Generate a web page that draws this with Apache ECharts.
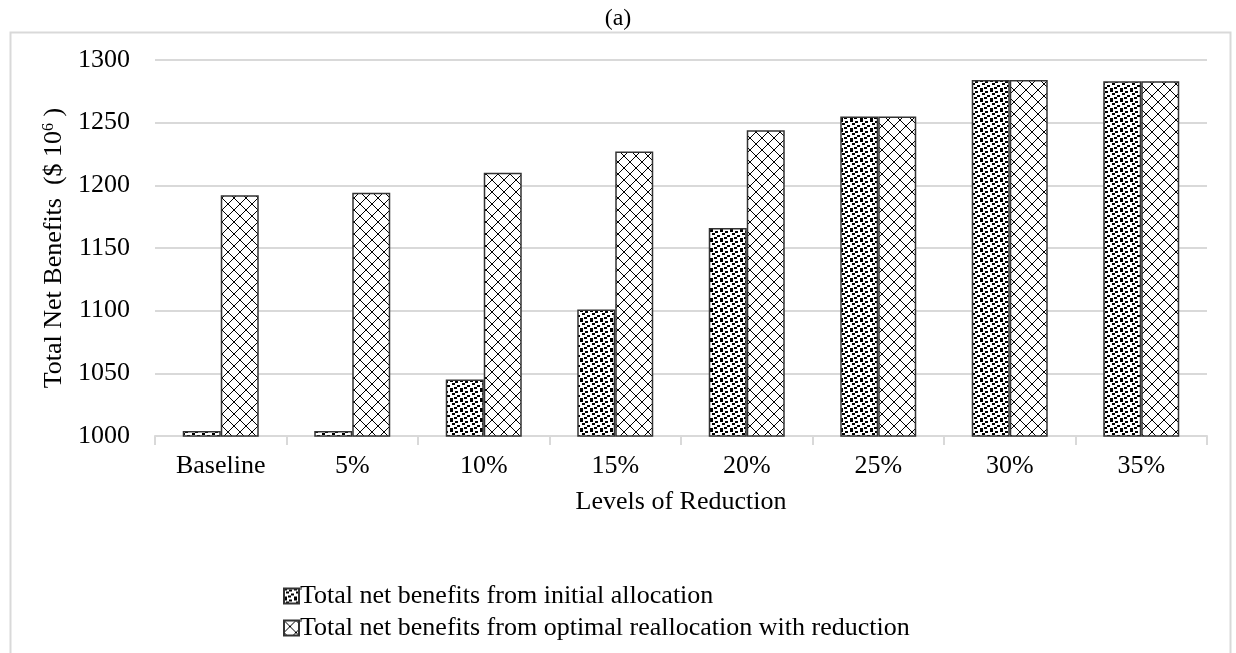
<!DOCTYPE html>
<html>
<head>
<meta charset="utf-8">
<script src="https://cdn.jsdelivr.net/npm/echarts@6/dist/echarts.min.js"></script>
<style>
html,body{margin:0;padding:0;background:#fff;}
#chart{width:1236px;height:653px;}
</style>
</head>
<body>
<div id="chart"></div>
<script>
const categories = ['Baseline', '5%', '10%', '15%', '20%', '25%', '30%', '35%'];
const initialAllocation = [1004, 1004, 1045, 1101, 1166, 1255, 1284, 1283];
const optimalReallocation = [1192, 1194, 1210, 1227, 1244, 1255, 1284, 1283];
const yTicks = { min: 1000, max: 1300, interval: 50 };
const seriesNames = ['Total net benefits from initial allocation', 'Total net benefits from optimal reallocation with reduction'];

function confettiTile() {
  const w = 10, h = 10;
  const c = document.createElement('canvas');
  c.width = w; c.height = h;
  const g = c.getContext('2d');
  g.fillStyle = '#fff'; g.fillRect(0, 0, w, h);
  g.fillStyle = '#000';
  const pts = [[0,0],[5,1],[2,3],[7,5],[4,7],[0,8]];
  pts.forEach(p => {
    for (let dx = -w; dx <= 0; dx += w) for (let dy = -h; dy <= 0; dy += h)
      g.fillRect(p[0] + dx + w, p[1] + dy + h, 3, 2);
  });
  pts.forEach(p => g.fillRect(p[0], p[1], 3, 2));
  return c;
}
function diamondTile() {
  const s = 12;
  const c = document.createElement('canvas');
  c.width = s; c.height = s;
  const g = c.getContext('2d');
  g.fillStyle = '#fff'; g.fillRect(0, 0, s, s);
  g.fillStyle = '#000';
  for (let i = 0; i < s; i++) {
    g.fillRect(i, i, 1, 1);
    g.fillRect(s - 1 - i, i, 1, 1);
  }
  return c;
}

const font = "'Liberation Serif', 'Times New Roman', serif";
const fs = 26;
const chart = echarts.init(document.getElementById('chart'));
chart.setOption({
  animation: false,
  backgroundColor: '#fff',
  textStyle: { fontFamily: font, color: '#000' },
  title: {
    text: '(a)', left: 'center', top: 2,
    textStyle: { fontFamily: font, fontSize: 24, fontWeight: 'normal', color: '#000' }
  },
  graphic: [{
    type: 'rect', left: 8, top: 30, silent: true,
    shape: { width: 1220, height: 660 },
    style: { fill: 'none', stroke: '#d9d9d9', lineWidth: 2 }
  }],
  grid: { left: 155, right: 29, top: 60, bottom: 217 },
  legend: {
    orient: 'vertical', left: 278, top: 578,
    icon: 'rect',
    itemWidth: 15, itemHeight: 15, itemGap: 6,
    textStyle: { fontFamily: font, fontSize: fs, color: '#000', padding: [0, 0, 0, -4] },
    data: seriesNames
  },
  xAxis: {
    type: 'category', data: categories,
    name: 'Levels of Reduction', nameLocation: 'middle', nameGap: 53,
    nameTextStyle: { fontFamily: font, fontSize: fs, color: '#000' },
    axisLine: { lineStyle: { color: '#d9d9d9', width: 2 } },
    axisTick: { show: true, length: 9, lineStyle: { color: '#d9d9d9', width: 2 } },
    axisLabel: { fontFamily: font, fontSize: fs, color: '#000', margin: 17 }
  },
  yAxis: {
    type: 'value', min: yTicks.min, max: yTicks.max, interval: yTicks.interval,
    name: 'Total Net Benefits  ($ 10{sup|6} )', nameLocation: 'middle', nameGap: 84,
    nameTextStyle: { fontFamily: font, fontSize: fs, color: '#000',
      rich: { sup: { fontFamily: font, fontSize: 16, color: '#000', verticalAlign: 'top', padding: [0, 0, 10, 0] } } },
    axisLine: { show: false }, axisTick: { show: false },
    splitLine: { lineStyle: { color: '#d9d9d9', width: 2 } },
    axisLabel: { fontFamily: font, fontSize: fs, color: '#000', margin: 25, formatter: v => String(v) }
  },
  series: [
    {
      name: seriesNames[0], type: 'bar', data: initialAllocation,
      barWidth: 38, barGap: '0%',
      itemStyle: { color: { image: confettiTile(), repeat: 'repeat' }, borderColor: '#333', borderWidth: 1.5 }
    },
    {
      name: seriesNames[1], type: 'bar', data: optimalReallocation,
      barWidth: 38, barGap: '0%',
      itemStyle: { color: { image: diamondTile(), repeat: 'repeat' }, borderColor: '#333', borderWidth: 1.5 }
    }
  ]
});
</script>
</body>
</html>
